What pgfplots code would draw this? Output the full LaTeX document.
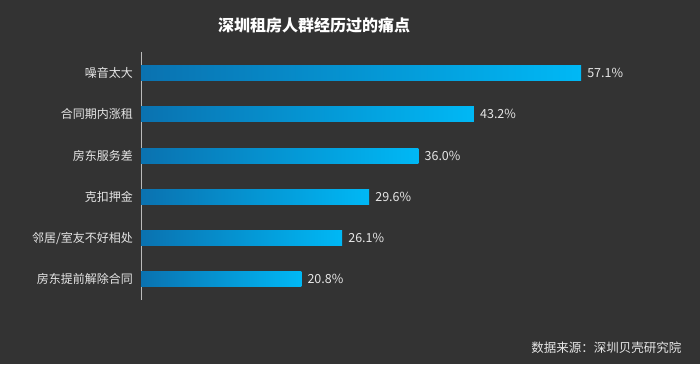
\documentclass[border=0pt]{standalone}
\usepackage{fontspec}
\setmainfont{Noto Sans CJK SC}
\usepackage{pgfplots}
\pgfplotsset{compat=1.18}
\definecolor{bg}{HTML}{333333}
\definecolor{txt}{HTML}{E6E6E6}
\definecolor{barL}{HTML}{0A72B0}
\definecolor{barR}{HTML}{00B8F5}
\definecolor{axl}{HTML}{BBBBBB}
\pgfplotsset{
  mybar/.style={xbar, bar width=15pt, bar shift=0pt, draw=none, left color=barL, right color=barR,
  nodes near coords={\pgfmathprintnumber[fixed,fixed zerofill,precision=1]{\pgfplotspointmeta}\%},
  nodes near coords align={horizontal},
  every node near coord/.append style={anchor=west, inner sep=0pt, xshift=6pt, color=txt, font=\fontsize{12.5}{14}\selectfont}}
}
\begin{document}
\begin{tikzpicture}[x=1pt,y=1pt]
\fill[bg] (0,0) rectangle (700,364);
\begin{axis}[
  at={(141pt,64pt)}, anchor=south west,
  scale only axis, width=462.4pt, height=248pt,
  xmin=0, xmax=60, ymin=52, ymax=300, y dir=reverse,
  axis x line=none, axis y line=left,
  y axis line style={-, draw=axl, line width=0.8pt},
  ytick={73,114,156,197,238,279},
  yticklabels={噪音太大,合同期内涨租,房东服务差,克扣押金,邻居/室友不好相处,房东提前解除合同},
  major tick length=0pt, ytick style={draw=none},
  yticklabel style={font=\fontsize{12}{14}\selectfont, color=txt, inner sep=0pt, xshift=-8pt},
  /pgf/number format/assume math mode=true,
  clip=false,
]
\addplot[mybar] coordinates {(57.1,73)};
\addplot[mybar] coordinates {(43.2,114)};
\addplot[mybar] coordinates {(36.0,156)};
\addplot[mybar] coordinates {(29.6,197)};
\addplot[mybar] coordinates {(26.1,238)};
\addplot[mybar] coordinates {(20.8,279)};
\end{axis}
\node[color=white, font=\fontsize{16}{18}\selectfont\bfseries] at (314,338.5) {深圳租房人群经历过的痛点};
\node[anchor=east, color=txt, font=\fontsize{12.5}{14}\selectfont] at (685,16.5) {数据来源：深圳贝壳研究院};
\end{tikzpicture}
\end{document}
